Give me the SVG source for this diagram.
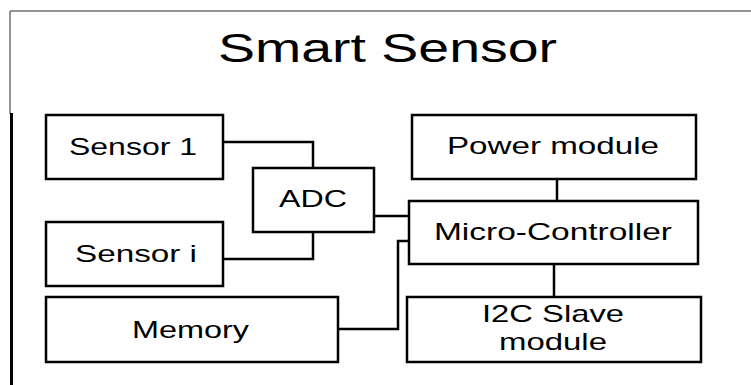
<svg xmlns="http://www.w3.org/2000/svg" width="751" height="385" viewBox="0 0 751 385">
<style>
.box{fill:#fff;stroke:#000;stroke-width:2.5}
.lbl{font-family:"Liberation Sans",Arial,sans-serif;font-size:24px;fill:#000}
.ttl{font-family:"Liberation Sans",Arial,sans-serif;font-size:40px;fill:#000}
.con{fill:none;stroke:#000;stroke-width:2.5}
.frame{fill:none;stroke:#707070;stroke-width:1.5}
</style>
<rect width="751" height="385" fill="#fff"/>
<g id="frame">
<path class="frame" d="M10,11 H751 M10,11 V114"/>
<path d="M11.5,113 V385" stroke="#000" stroke-width="3" fill="none"/>
<text class="ttl" x="218" y="62" textLength="339" lengthAdjust="spacingAndGlyphs">Smart Sensor</text>
</g>
<g id="connectors">
<path class="con" d="M223,142 H313 V168"/>
<path class="con" d="M223,259 H313 V232"/>
<path class="con" d="M374,216 H409"/>
<path class="con" d="M338,329 H398 V241 H409"/>
<path class="con" d="M557,179 V201"/>
<path class="con" d="M554,264 V297"/>
</g>
<g id="sensor1">
<rect class="box" x="46" y="115" width="177" height="64"/>
<text class="lbl" x="69" y="155" textLength="128" lengthAdjust="spacingAndGlyphs">Sensor 1</text>
</g>
<g id="sensori">
<rect class="box" x="46" y="222" width="177" height="64"/>
<text class="lbl" x="75" y="262" textLength="122" lengthAdjust="spacingAndGlyphs">Sensor i</text>
</g>
<g id="adc">
<rect class="box" x="253" y="168" width="121" height="64"/>
<text class="lbl" x="279" y="207" textLength="68" lengthAdjust="spacingAndGlyphs">ADC</text>
</g>
<g id="memory">
<rect class="box" x="46" y="297" width="292" height="65"/>
<text class="lbl" x="132" y="338" textLength="117" lengthAdjust="spacingAndGlyphs">Memory</text>
</g>
<g id="power">
<rect class="box" x="412" y="115" width="284" height="64"/>
<text class="lbl" x="447" y="154" textLength="212" lengthAdjust="spacingAndGlyphs">Power module</text>
</g>
<g id="mcu">
<rect class="box" x="409" y="201" width="289" height="63"/>
<text class="lbl" x="434" y="240" textLength="238" lengthAdjust="spacingAndGlyphs">Micro-Controller</text>
</g>
<g id="i2c">
<rect class="box" x="407" y="297" width="294" height="65"/>
<text class="lbl" x="482" y="322" textLength="142" lengthAdjust="spacingAndGlyphs">I2C Slave</text>
<text class="lbl" x="499" y="350" textLength="108" lengthAdjust="spacingAndGlyphs">module</text>
</g>
</svg>
